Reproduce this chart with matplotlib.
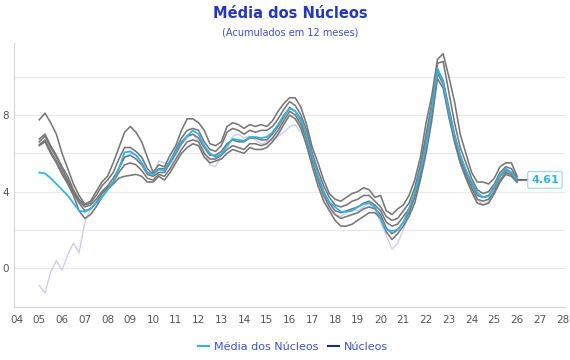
import numpy as np
import matplotlib
matplotlib.use("Agg")
import matplotlib.pyplot as plt
from matplotlib.lines import Line2D
from matplotlib.ticker import MultipleLocator

# quarterly points, 2005.00 .. 2026.00 (12-month accumulated, %)
t = np.arange(2005, 2026.01, 0.25)

media = [5.0, 4.95, 4.7, 4.4, 4.1, 3.8, 3.4, 3.0, 2.95, 3.1, 3.4, 3.7,
         4.1, 4.5, 5.2, 6.05, 6.1, 5.9, 5.5, 5.0, 4.9, 5.15, 5.1, 5.6,
         6.1, 6.6, 6.9, 7.2, 7.0, 6.4, 6.0, 5.8, 5.95, 6.4, 6.75, 6.7,
         6.65, 6.85, 6.85, 6.8, 6.85, 7.1, 7.5, 8.0, 8.35, 8.2, 7.8, 6.9,
         5.8, 4.8, 4.0, 3.45, 3.2, 2.95, 2.95, 3.0, 3.2, 3.35, 3.4, 3.2,
         2.6, 2.0, 1.95, 2.0, 2.4, 3.1, 3.9, 5.1, 6.4, 8.3, 10.4, 9.7,
         8.2, 6.9, 5.9, 5.1, 4.5, 3.95, 3.7, 3.75, 4.3, 4.85, 5.2, 5.0, 4.61]

# other series shown faintly
faint = [-0.9, -1.3, -0.2, 0.4, -0.1, 0.7, 1.3, 0.8, 2.4, 3.1, 3.5, 3.8,
         4.1, 4.5, 5.3, 5.8, 6.0, 5.9, 5.8, 4.9, 4.8, 5.6, 5.5, 5.4,
         5.9, 6.5, 6.8, 7.0, 6.6, 6.1, 5.4, 5.3, 5.9, 6.2, 6.9, 7.0,
         6.8, 6.9, 6.7, 6.5, 6.6, 6.7, 6.9, 7.1, 7.4, 7.5, 7.1, 6.6,
         5.6, 4.6, 3.5, 3.0, 2.8, 2.7, 2.9, 3.1, 3.0, 3.2, 3.4, 3.1,
         2.4, 1.7, 1.0, 1.3, 2.0, 2.9, 3.8, 5.0, 6.3, 8.2, 10.3, 9.6,
         8.0, 6.6, 5.5, 4.8, 4.2, 3.6, 3.3, 3.5, 4.1, 4.6, 5.0, 4.8, 4.5]

nucleo_1 = [7.75, 8.1, 7.6, 7.0, 6.0, 5.2, 4.4, 3.8, 3.35, 3.5, 4.0, 4.5,
            4.8, 5.5, 6.3, 7.1, 7.4, 7.1, 6.6, 5.8, 5.0, 5.4, 5.3, 5.9,
            6.4, 7.2, 7.8, 7.8, 7.6, 7.2, 6.5, 6.4, 6.6, 7.4, 7.6, 7.5,
            7.3, 7.5, 7.4, 7.5, 7.4, 7.7, 8.2, 8.6, 8.9, 8.9, 8.4, 7.5,
            6.3, 5.5, 4.6, 3.9, 3.6, 3.5, 3.7, 3.9, 4.0, 4.2, 4.1, 3.7,
            3.8, 3.0, 2.8, 3.1, 3.3, 3.8, 4.6, 5.8, 7.6, 9.0, 10.9, 11.2,
            10.0, 8.7, 7.0, 6.0, 5.0, 4.5, 4.5, 4.4, 4.7, 5.3, 5.5, 5.5, 4.8]
nucleo_2 = [6.75, 7.0, 6.4, 5.9, 5.3, 4.8, 4.1, 3.6, 3.3, 3.4, 3.8, 4.3,
            4.6, 5.0, 5.7, 6.3, 6.3, 6.1, 5.8, 5.2, 4.9, 5.2, 5.2, 5.6,
            6.2, 6.8, 7.2, 7.3, 7.2, 6.6, 6.2, 6.1, 6.4, 7.1, 7.3, 7.2,
            7.0, 7.2, 7.1, 7.2, 7.2, 7.4, 7.8, 8.3, 8.7, 8.5, 8.0, 7.2,
            6.0, 5.1, 4.3, 3.7, 3.3, 3.2, 3.3, 3.5, 3.6, 3.8, 3.8, 3.5,
            3.2, 2.7, 2.5, 2.6, 3.0, 3.4, 4.2, 5.4, 7.0, 8.6, 10.7, 10.8,
            9.2, 7.6, 6.3, 5.5, 4.7, 4.1, 3.9, 4.0, 4.4, 5.0, 5.3, 5.2, 4.7]
nucleo_3 = [6.6, 6.9, 6.3, 5.8, 5.2, 4.6, 4.0, 3.5, 3.2, 3.3, 3.6, 4.0,
            4.3, 4.7, 5.2, 5.8, 5.9, 5.7, 5.4, 4.9, 4.8, 5.0, 5.0, 5.5,
            6.0, 6.5, 6.9, 7.0, 6.8, 6.3, 5.9, 5.9, 6.1, 6.5, 6.7, 6.6,
            6.6, 6.8, 6.8, 6.7, 6.7, 7.0, 7.4, 7.9, 8.4, 8.2, 7.7, 6.9,
            5.8, 4.8, 4.0, 3.4, 3.0, 2.9, 3.0, 3.1, 3.2, 3.4, 3.5, 3.3,
            3.0, 2.4, 2.2, 2.3, 2.7, 3.1, 3.9, 5.1, 6.6, 8.3, 10.4, 9.8,
            8.4, 7.0, 5.9, 5.1, 4.4, 3.8, 3.7, 3.8, 4.2, 4.8, 5.1, 5.0, 4.6]
nucleo_4 = [6.45, 6.7, 6.1, 5.6, 5.0, 4.5, 3.9, 3.4, 3.0, 3.1, 3.4, 3.9,
            4.2, 4.5, 5.0, 5.4, 5.5, 5.4, 5.1, 4.7, 4.6, 4.9, 4.8, 5.2,
            5.7, 6.2, 6.6, 6.7, 6.6, 6.0, 5.7, 5.7, 5.9, 6.2, 6.4, 6.3,
            6.2, 6.5, 6.5, 6.4, 6.5, 6.8, 7.2, 7.7, 8.2, 8.0, 7.5, 6.7,
            5.6, 4.6, 3.8, 3.2, 2.8, 2.6, 2.7, 2.8, 2.9, 3.1, 3.2, 3.1,
            2.8, 2.1, 1.8, 2.0, 2.4, 2.9, 3.7, 4.8, 6.3, 8.0, 10.2, 9.6,
            8.1, 6.8, 5.7, 4.9, 4.2, 3.6, 3.5, 3.6, 4.0, 4.6, 5.0, 4.9, 4.5]
nucleo_5 = [6.4, 6.6, 6.0, 5.5, 4.9, 4.4, 3.8, 3.0, 2.6, 2.8, 3.2, 3.7,
            4.1, 4.4, 4.7, 4.8, 4.85, 4.9, 4.8, 4.5, 4.5, 4.8, 4.6, 5.0,
            5.5, 6.0, 6.3, 6.5, 6.4, 5.8, 5.5, 5.6, 5.7, 6.0, 6.2, 6.1,
            6.0, 6.3, 6.2, 6.2, 6.3, 6.6, 7.0, 7.5, 8.0, 7.8, 7.3, 6.4,
            5.3, 4.3, 3.5, 3.0, 2.5, 2.2, 2.2, 2.3, 2.5, 2.7, 2.9, 2.9,
            2.6, 1.9, 1.5, 1.8, 2.2, 2.7, 3.4, 4.6, 6.0, 7.7, 9.9, 9.4,
            7.9, 6.6, 5.5, 4.7, 4.0, 3.4, 3.3, 3.4, 3.9, 4.5, 4.9, 4.8, 4.5]
nucleos = [nucleo_1, nucleo_2, nucleo_3, nucleo_4, nucleo_5]

xticks = np.arange(2004, 2029)
ytick_labels = [0, 4, 8]

fig = plt.figure(figsize=(5.7, 3.6), dpi=100)
ax = fig.add_axes([0.025, 0.147, 0.966, 0.733])

ax.plot(t, faint, color="#cdccf4", lw=1.0, zorder=2)
for s in nucleos:
    ax.plot(t, s, color="#777777", lw=1.15, zorder=3)
ax.plot(t, media, color="#2bb5e8", lw=1.3, zorder=4)

# last value label
ax.annotate(f"{media[-1]:.2f}", (t[-1], media[-1]), xytext=(14, 0),
            textcoords="offset pixels", ha="left", va="center",
            fontsize=8, fontweight="bold", color="#2bb5e8",
            bbox=dict(boxstyle="round,pad=0.3,rounding_size=0.15", fc="white",
                      ec="#8fd8f3", lw=0.8),
            arrowprops=dict(arrowstyle="-", color="black", lw=0.8,
                            shrinkA=0, shrinkB=0))

ax.set_xlim(2003.9, 2028.1)
ax.set_ylim(-2.03, 11.75)
ax.set_xticks(xticks)
ax.set_xticklabels([f"{x % 100:02d}" for x in xticks])
ax.set_yticks(ytick_labels)
ax.yaxis.set_minor_locator(MultipleLocator(2))
ax.grid(axis="y", which="both", color="#e8e8e8", lw=0.8, zorder=0)
ax.set_axisbelow(True)
ax.tick_params(axis="both", which="both", length=0, labelsize=7.5,
               labelcolor="#555555")
ax.tick_params(axis="x", pad=6)
ax.tick_params(axis="y", pad=4)
for side in ("top", "right"):
    ax.spines[side].set_visible(False)
for side in ("left", "bottom"):
    ax.spines[side].set_color("#d4d4d4")
    ax.spines[side].set_linewidth(0.8)

fig.text(0.509, 0.962, "Média dos Núcleos", ha="center", va="center",
         fontsize=10.5, fontweight="bold", color="#2236c8")
fig.text(0.509, 0.911, "(Acumulados em 12 meses)", ha="center", va="center",
         fontsize=7, color="#3a4fe0")

handles = [Line2D([], [], color="#2bb5e8", lw=1.5),
           Line2D([], [], color="#1f2b8c", lw=1.5)]
fig.legend(handles, ["Média dos Núcleos", "Núcleos"], loc="center",
           bbox_to_anchor=(0.514, 0.036), ncol=2, frameon=False,
           fontsize=8, labelcolor="#3a4fe0", handlelength=1.0,
           handletextpad=0.5, columnspacing=0.8)

fig.savefig("out.png", dpi=100)
